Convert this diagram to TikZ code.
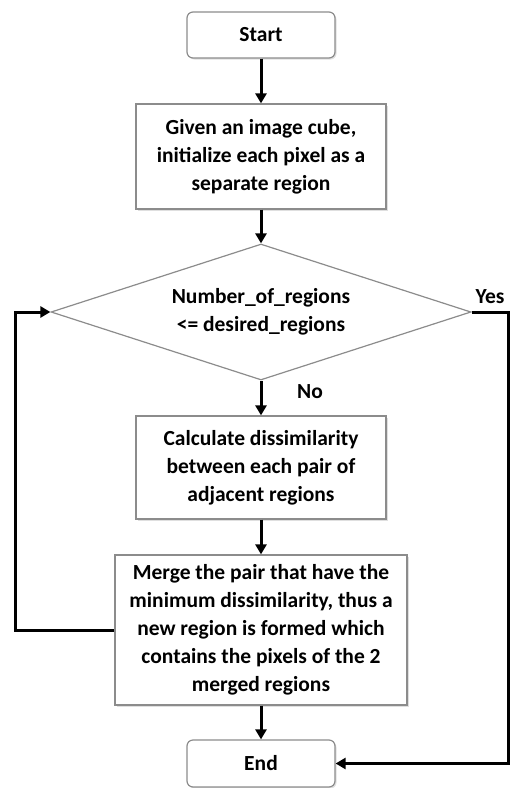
\documentclass[tikz,border=0pt]{standalone}
\usepackage{fontspec}
\setmainfont{Carlito}
\usetikzlibrary{arrows.meta,shapes.geometric,shadows}
\begin{document}
\begin{tikzpicture}[x=1pt,y=1pt,
  font=\bfseries\fontsize{21.5}{28}\selectfont,
  boxstyle/.style={draw=black!45, line width=1.2pt, fill=white, align=center, inner sep=0pt,
    drop shadow={opacity=0.25, shadow xshift=1.5pt, shadow yshift=-1.5pt}},
  termstyle/.style={boxstyle, rounded corners=6pt},
  decstyle/.style={draw=black!45, line width=1.2pt, fill=white, align=center, diamond, aspect=3,
    inner sep=0pt, minimum width=420pt, minimum height=136pt},
  flowline/.style={line width=3pt, -{Triangle[length=10pt,width=11pt]}},
  lbl/.style={font=\bfseries\fontsize{21.5}{26}\selectfont}
]
\useasboundingbox (0,0) rectangle (510,-788);
\node[termstyle, minimum width=148pt, minimum height=46pt] (start) at (261,-35) {Start};
\node[boxstyle, minimum width=250pt, minimum height=105pt] (init) at (261,-156.5)
  {Given an image cube,\\ initialize each pixel as a\\ separate region};
\node[decstyle] (dec) at (261,-312) {Number\_of\_regions\\ <= desired\_regions};
\node[boxstyle, minimum width=250pt, minimum height=103pt] (calc) at (261,-467.5)
  {Calculate dissimilarity\\ between each pair of\\ adjacent regions};
\node[boxstyle, minimum width=292pt, minimum height=150pt] (merge) at (261,-630)
  {Merge the pair that have the\\ minimum dissimilarity, thus a\\ new region is formed which\\ contains the pixels of the 2\\ merged regions};
\node[termstyle, minimum width=148pt, minimum height=47pt] (end) at (261,-763.5) {End};
\node[lbl] (yes) at (490,-297) {Yes};
\node[lbl] (no) at (310,-392) {No};
\coordinate (L) at (15,-630);
\coordinate (R) at (508,-312);
\draw[flowline] (start) -- (init);
\draw[flowline] (init) -- (dec);
\draw[flowline] (dec) -- (calc);
\draw[flowline] (calc) -- (merge);
\draw[flowline] (merge) -- (end);
\draw[flowline] (merge.west) -- (L) |- (dec.west);
\draw[flowline] (dec.east) -- (R) |- (end.east);
\end{tikzpicture}
\end{document}
